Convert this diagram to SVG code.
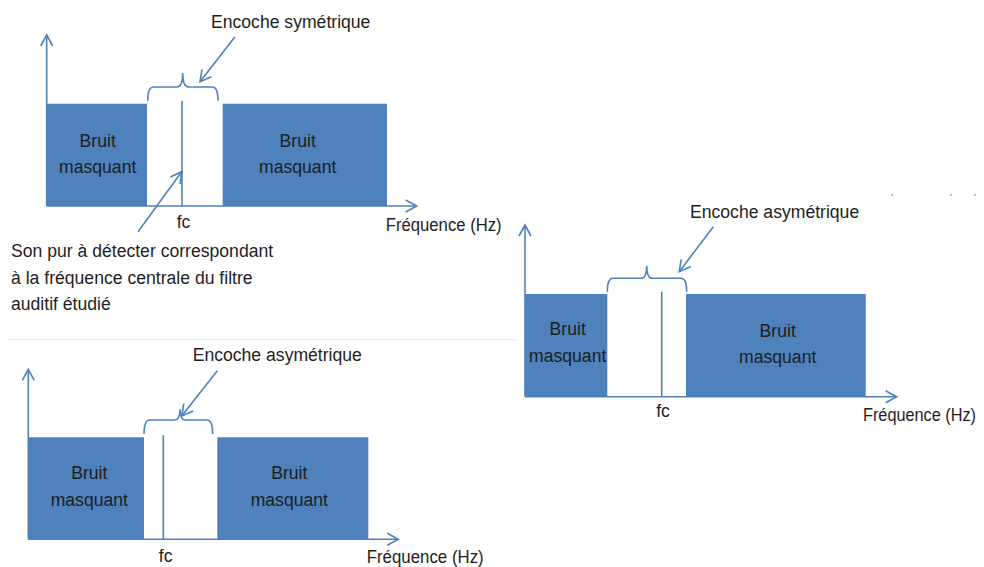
<svg xmlns="http://www.w3.org/2000/svg" width="984" height="567" viewBox="0 0 984 567">
<style>
.bar{fill:#4F81BD}
.ln{stroke:#4F81BD;stroke-width:1.6;fill:none}
.ax{stroke:#4F81BD;stroke-width:1.6;fill:none;marker-end:url(#arr)}
.t{font-family:"Liberation Sans",Arial,sans-serif;font-size:17.6px;fill:#1e1e1e}
.c{text-anchor:middle}
</style>
<defs>
<marker id="arr" viewBox="0 0 14 14" refX="12" refY="7" markerWidth="14" markerHeight="14" markerUnits="userSpaceOnUse" orient="auto">
<path d="M1,1 L12,7 L1,13" fill="none" stroke="#4F81BD" stroke-width="1.6"/>
</marker>
</defs>
<rect width="984" height="567" fill="#ffffff"/>
<line x1="8" y1="339.7" x2="517" y2="339.7" stroke="#e4ebf4" stroke-width="1"/>
<g fill="#9a9a9a">
<rect x="891.5" y="194" width="1.6" height="1.6"/>
<rect x="950.2" y="194" width="1.6" height="1.6"/>
<rect x="974.2" y="194" width="1.6" height="1.6"/>
</g>

<!-- Diagram 1 -->
<g id="d1-noise-left">
<rect class="bar" x="46.7" y="103.7" width="100.3" height="102.3"/>
<text class="t c" x="97.7" y="146.5">Bruit</text>
<text class="t c" x="97.7" y="172.5">masquant</text>
</g>
<g id="d1-noise-right">
<rect class="bar" x="222.7" y="103.7" width="164.3" height="102.3"/>
<text class="t c" x="297.7" y="146.5">Bruit</text>
<text class="t c" x="297.7" y="172.5">masquant</text>
</g>
<g id="d1-fc">
<line class="ln" x1="182" y1="101" x2="182" y2="206"/>
<text class="t c" x="183.5" y="228">fc</text>
</g>
<g id="d1-brace">
<path class="ln" d="M147.7,100.7 Q147.7,87 153.5,87 L177,87 Q182.7,87 182.7,73 Q182.7,87 188.5,87 L212.5,87 Q218,87 218,100.7"/>
</g>
<g id="d1-label-notch">
<text class="t" x="211" y="28">Encoche symétrique</text>
</g>
<g id="d1-label-tone">
<text class="t" x="11" y="256.5">Son pur à détecter correspondant</text>
<text class="t" x="11" y="284">à la fréquence centrale du filtre</text>
<text class="t" x="11" y="310">auditif étudié</text>
</g>
<g id="d1-xlabel">
<text class="t" x="385.7" y="231" textLength="116" lengthAdjust="spacingAndGlyphs">Fréquence (Hz)</text>
</g>

<!-- Diagram 2 -->
<g id="d2-noise-left">
<rect class="bar" x="525" y="294" width="82.3" height="102.7"/>
<text class="t c" x="567.7" y="335">Bruit</text>
<text class="t c" x="567.7" y="361.5">masquant</text>
</g>
<g id="d2-noise-right">
<rect class="bar" x="686" y="294" width="179.7" height="102.7"/>
<text class="t c" x="777.7" y="336.5">Bruit</text>
<text class="t c" x="777.7" y="362.5">masquant</text>
</g>
<g id="d2-fc">
<line class="ln" x1="661.7" y1="291.7" x2="661.7" y2="396.7"/>
<text class="t c" x="663" y="416.5">fc</text>
</g>
<g id="d2-brace">
<path class="ln" d="M607.3,291.7 Q607.3,278.3 613,278.3 L641,278.3 Q646.7,278.3 646.7,265.7 Q646.7,278.3 652.5,278.3 L681,278.3 Q686.7,278.3 686.7,291.7"/>
</g>
<g id="d2-label-notch">
<text class="t" x="690" y="218.3">Encoche asymétrique</text>
</g>
<g id="d2-xlabel">
<text class="t" x="863" y="421" textLength="113" lengthAdjust="spacingAndGlyphs">Fréquence (Hz)</text>
</g>

<!-- Diagram 3 -->
<g id="d3-noise-left">
<rect class="bar" x="28.3" y="437.3" width="115.7" height="102"/>
<text class="t c" x="89.3" y="479.3">Bruit</text>
<text class="t c" x="89.3" y="506">masquant</text>
</g>
<g id="d3-noise-right">
<rect class="bar" x="217.3" y="437.3" width="151" height="102"/>
<text class="t c" x="289.3" y="479.3">Bruit</text>
<text class="t c" x="289.3" y="506">masquant</text>
</g>
<g id="d3-fc">
<line class="ln" x1="163.3" y1="435" x2="163.3" y2="539.3"/>
<text class="t c" x="165.7" y="561.5">fc</text>
</g>
<g id="d3-brace">
<path class="ln" d="M144,434 Q144,420 150,420 L174.5,420 Q180,420 180,409.3 Q180,420 185.5,420 L207,420 Q212.7,420 212.7,434"/>
</g>
<g id="d3-label-notch">
<text class="t" x="192.7" y="361">Encoche asymétrique</text>
</g>
<g id="d3-xlabel">
<text class="t" x="366.7" y="563" textLength="117" lengthAdjust="spacingAndGlyphs">Fréquence (Hz)</text>
</g>

<g id="connectors">
<path class="ax" d="M46.7,206 L46.7,35"/>
<path class="ax" d="M46.7,206 L416.7,206"/>
<path class="ax" d="M235,36.7 L200,81.7"/>
<path class="ax" d="M138,231.7 L181.7,171.7"/>
<path class="ax" d="M525,396.7 L525,225"/>
<path class="ax" d="M525,396.7 L896.7,396.7"/>
<path class="ax" d="M713.3,226.7 L679.3,271.7"/>
<path class="ax" d="M28.3,539.3 L28.3,369.3"/>
<path class="ax" d="M28.3,539.3 L398.3,539.3"/>
<path class="ax" d="M217.3,370.7 L181.7,416"/>
</g>
</svg>
